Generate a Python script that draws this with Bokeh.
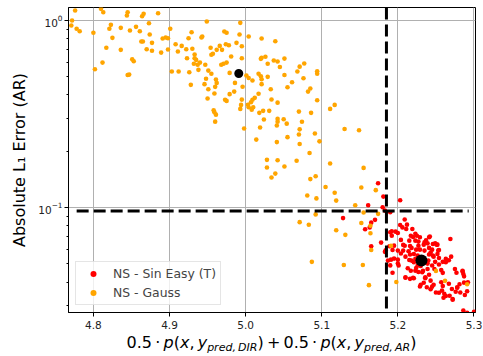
from bokeh.plotting import figure
from bokeh.models import (Span, FixedTicker, PrintfTickFormatter, Range1d,
                          Legend, LegendItem, LogTickFormatter, Div)
from bokeh.layouts import column
from bokeh.embed import file_html
from bokeh.resources import INLINE

# ---------------- data ----------------
gauss_x = [
    4.776, 4.810, 4.813, 4.845, 4.844, 4.866, 4.864, 4.885, 4.772, 4.771,
    4.778, 4.782, 4.800, 4.823, 4.821, 4.825, 4.836, 4.848, 4.856, 4.861,
    4.873, 4.874, 4.863, 4.865, 4.877, 4.817, 4.836, 4.870, 4.877, 4.851,
    4.853, 4.812, 4.802, 4.847, 4.845, 4.891, 4.895, 4.898, 4.901, 4.889,
    4.898, 4.949, 4.993, 4.929, 4.943, 4.942, 4.925, 4.908, 4.916, 4.922,
    4.930, 4.911, 4.933, 4.933, 4.935, 4.923, 4.940, 4.932, 4.937, 4.947,
    4.938, 4.903, 4.912, 4.926, 4.951, 4.954, 4.957, 4.955, 4.962, 4.966,
    4.969, 4.972, 4.975, 4.974, 4.978, 4.988, 4.995, 4.992, 4.995, 4.981,
    4.968, 4.971, 4.975, 4.979, 4.955, 4.948, 4.961, 4.962, 4.960, 4.946,
    4.928, 4.986, 4.996, 4.951, 4.959, 4.950, 4.979, 4.985, 4.973, 4.975,
    4.995, 4.994, 4.993, 4.958, 4.959, 4.961, 4.960,
    5.004, 5.021, 5.039, 5.020, 5.021, 5.026, 5.029, 5.037, 5.042, 5.045, 5.051,
    5.004, 5.009, 5.017, 5.020, 5.021, 5.029, 5.021, 5.051, 5.033, 5.017, 5.012,
    5.009, 5.007, 5.003, 5.004, 5.008, 5.010, 5.034, 5.042, 5.018, 5.023, 5.031,
    5.070, 5.086, 5.111, 5.117, 5.094, 5.055, 5.061, 5.068, 5.071, 5.077, 5.076,
    5.082, 5.085, 5.094, 5.094, 5.001,
    5.024, 5.042, 5.042, 5.041, 5.050, 5.054, 5.074, 4.998, 5.019, 5.071, 5.070,
    5.091, 5.130, 5.149, 5.014, 5.041, 5.055, 5.071, 5.097, 5.084, 5.028, 5.042,
    5.067, 5.028, 5.051, 5.111, 5.155, 5.039, 5.034, 5.085, 5.092, 5.105, 5.081,
    5.093, 5.117, 5.119, 5.152, 5.171, 5.144, 5.155, 5.174, 5.092, 5.071, 5.083,
    5.119, 5.131, 5.152, 5.164, 5.164, 5.165, 5.191, 5.087, 5.129, 5.154, 5.162,
    5.198, 5.250, 5.262, 5.291,
]
gauss_y = [
    1.131, 1.155, 1.108, 1.108, 1.063, 1.086, 1.054, 1.094, 1.000, 0.940,
    0.903, 0.876, 0.860, 0.948, 0.903, 0.808, 0.914, 0.884, 0.925, 0.876,
    0.967, 0.842, 0.772, 0.772, 0.760, 0.715, 0.697, 0.702, 0.689, 0.621,
    0.606, 0.596, 0.549, 0.514, 0.512, 0.801, 0.811, 0.804, 0.903, 0.674,
    0.700, 0.988, 0.972, 0.866, 0.821, 0.811, 0.804, 0.747, 0.732, 0.702,
    0.706, 0.683, 0.658, 0.629, 0.616, 0.629, 0.596, 0.587, 0.580, 0.580,
    0.545, 0.534, 0.534, 0.529, 0.540, 0.715, 0.664, 0.656, 0.697, 0.732,
    0.697, 0.873, 0.860, 0.747, 0.738, 0.760, 0.729, 0.842, 0.629, 0.642,
    0.580, 0.587, 0.596, 0.525, 0.519, 0.488, 0.484, 0.464, 0.442, 0.457,
    0.453, 0.464, 0.443, 0.429, 0.407, 0.383, 0.404, 0.417, 0.377, 0.372,
    0.378, 0.354, 0.337, 0.331, 0.323, 0.314, 0.288,
    0.821, 0.801, 0.775, 0.624, 0.632, 0.640, 0.587, 0.611, 0.604, 0.565, 0.626,
    0.493, 0.478, 0.519, 0.504, 0.485, 0.500, 0.457, 0.512, 0.429, 0.406, 0.386,
    0.377, 0.366, 0.355, 0.344, 0.334, 0.344, 0.378, 0.364, 0.321, 0.329, 0.329,
    0.326, 0.321, 0.337, 0.354, 0.375, 0.440, 0.468, 0.534, 0.567, 0.589, 0.491,
    0.417, 0.433, 0.536, 0.519, 0.508,
    0.296, 0.298, 0.288, 0.275, 0.297, 0.281, 0.288, 0.265, 0.268, 0.262, 0.246,
    0.249, 0.263, 0.259, 0.231, 0.224, 0.238, 0.219, 0.226, 0.196, 0.180, 0.179,
    0.178, 0.164, 0.166, 0.172, 0.163, 0.152, 0.145, 0.142, 0.147, 0.129, 0.116,
    0.112, 0.120, 0.109, 0.128, 0.124, 0.103, 0.0942, 0.0926, 0.0920, 0.0836, 0.0810,
    0.0757, 0.0715, 0.0828, 0.0800, 0.0730, 0.0594, 0.0625, 0.0513, 0.0493, 0.0493, 0.0385,
    0.0400, 0.0459, 0.0406, 0.0389,
]

sin_x = [
    5.174, 5.181, 5.161, 5.180, 5.183, 5.203, 5.190, 5.128, 5.170, 5.165,
    5.163, 5.157, 5.209, 5.203, 5.211, 5.178, 5.165, 5.183, 5.184, 5.189,
    5.195, 5.193, 5.190, 5.192, 5.200, 5.204, 5.207, 5.204, 5.200, 5.191,
    5.190, 5.193, 5.200, 5.213, 5.217, 5.210, 5.216, 5.221, 5.215, 5.220,
    5.216, 5.218, 5.214, 5.221, 5.224, 5.223, 5.225, 5.227, 5.227, 5.234,
    5.237, 5.239, 5.241, 5.246, 5.249, 5.252, 5.245, 5.253, 5.252, 5.246,
    5.223, 5.218, 5.224, 5.230, 5.227, 5.233, 5.239, 5.241, 5.236, 5.245,
    5.249, 5.254, 5.259, 5.257, 5.259, 5.263, 5.263, 5.267, 5.270, 5.269,
    5.275, 5.277, 5.285, 5.287, 5.230, 5.234, 5.243, 5.250, 5.254, 5.229,
    5.238, 5.245, 5.259, 5.258, 5.263, 5.272, 5.260, 5.267, 5.271, 5.278,
    5.281, 5.287, 5.276, 5.282, 5.288, 5.291, 5.286, 5.291, 5.300, 5.192,
    5.197, 5.206, 5.212, 5.219, 5.217, 5.223, 5.229, 5.235, 5.241, 5.242,
    5.251, 5.254, 5.200, 5.209, 5.210, 5.215, 5.210, 5.220, 5.201, 5.187,
    5.195, 5.235, 5.241, 5.240, 5.247, 5.254, 5.226, 5.223, 5.232, 5.236,
    5.243, 5.247, 5.257, 5.261, 5.268, 5.272, 5.278, 5.285, 5.286, 5.292,
    5.226, 5.239, 5.221, 5.243, 5.229, 5.248, 5.216, 5.207,
]
sin_y = [
    0.1349, 0.1145, 0.1029, 0.1004, 0.0964, 0.1094, 0.0944, 0.0879, 0.0860, 0.0831,
    0.0784, 0.0766, 0.0863, 0.0808, 0.0769, 0.0650, 0.0622, 0.0580, 0.0591, 0.0621,
    0.0626, 0.0594, 0.0738, 0.0708, 0.0732, 0.0672, 0.0632, 0.0568, 0.0527, 0.0527,
    0.0491, 0.0449, 0.0502, 0.0474, 0.0460, 0.0422, 0.0416, 0.0419, 0.0666, 0.0697,
    0.0624, 0.0609, 0.0584, 0.0565, 0.0596, 0.0666, 0.0708, 0.0658, 0.0626, 0.0634,
    0.0668, 0.0644, 0.0609, 0.0639, 0.0644, 0.0634, 0.0596, 0.0589, 0.0565, 0.0554,
    0.0532, 0.0521, 0.0476, 0.0488, 0.0453, 0.0459, 0.0470, 0.0438, 0.0419, 0.0490,
    0.0513, 0.0496, 0.0513, 0.0464, 0.0448, 0.0510, 0.0532, 0.0523, 0.0547, 0.0680,
    0.0470, 0.0449, 0.0455, 0.0429, 0.0387, 0.0397, 0.0366, 0.0352, 0.0351, 0.0379,
    0.0375, 0.0378, 0.0381, 0.0360, 0.0337, 0.0322, 0.0330, 0.0392, 0.0367, 0.0373,
    0.0389, 0.0397, 0.0355, 0.0352, 0.0341, 0.0357, 0.0282, 0.0274, 0.0277, 0.0747,
    0.0744, 0.0784, 0.0811, 0.0769, 0.0708, 0.0724, 0.0694, 0.0652, 0.0694, 0.0700,
    0.0634, 0.0594, 0.0589, 0.0626, 0.0547, 0.0525, 0.0424, 0.0421, 0.0490, 0.0521,
    0.0534, 0.0589, 0.0561, 0.0521, 0.0547, 0.0538, 0.0490, 0.0460, 0.0451, 0.0424,
    0.0407, 0.0387, 0.0399, 0.0346, 0.0338, 0.0325, 0.0375, 0.0460, 0.0442, 0.0399,
    0.0554, 0.0502, 0.0510, 0.0575, 0.0596, 0.0470, 0.0561, 0.0589,
]

mean_gauss = (4.991, 0.521)
mean_sin = (5.231, 0.0521)

vline_x = 5.185
hline_y = 0.096
hline_x = [4.778, 5.293]

x_ticks = [4.8, 4.9, 5.0, 5.1, 5.2, 5.3]
y_ticks = [0.1, 1.0]
y_minor = [0.03, 0.04, 0.05, 0.06, 0.07, 0.08, 0.09,
           0.2, 0.3, 0.4, 0.5, 0.6, 0.7, 0.8, 0.9]

labels = ["NS - Sin Easy (T)", "NS - Gauss"]

FONT = "DejaVu Sans"
W, H_PLOT, H_LABEL = 483, 334, 22
B_LEFT, B_RIGHT, B_TOP, B_BOTTOM = 68, 8, 7, 22

n_g = min(len(gauss_x), len(gauss_y))
n_s = min(len(sin_x), len(sin_y))

# ---------------- figure ----------------
p = figure(width=W, height=H_PLOT, y_axis_type="log",
           x_range=Range1d(4.7673, 5.302), y_range=Range1d(0.0275, 1.174),
           output_backend="svg", toolbar_location=None,
           min_border_left=B_LEFT, min_border_right=B_RIGHT,
           min_border_top=B_TOP, min_border_bottom=B_BOTTOM)
p.background_fill_color = "white"
p.border_fill_color = "white"
p.outline_line_color = "black"
p.outline_line_width = 1

# grid
p.xgrid.ticker = FixedTicker(ticks=x_ticks)
p.ygrid.ticker = FixedTicker(ticks=y_ticks)
for g in (p.xgrid[0], p.ygrid[0]):
    g.grid_line_color = "#b0b0b0"
    g.grid_line_width = 1

# axes
p.xaxis.ticker = FixedTicker(ticks=x_ticks)
p.xaxis.formatter = PrintfTickFormatter(format="%.1f")
p.yaxis.ticker = FixedTicker(ticks=y_ticks, minor_ticks=y_minor)
p.yaxis.formatter = LogTickFormatter()
for ax in (p.xaxis[0], p.yaxis[0]):
    ax.axis_line_color = "black"
    ax.major_tick_line_color = "black"
    ax.minor_tick_line_color = "black"
    ax.major_tick_in = 0
    ax.major_tick_out = 4
    ax.minor_tick_in = 0
    ax.minor_tick_out = 2
    ax.major_label_text_font = FONT
    ax.major_label_text_font_size = "10.5px"
    ax.major_label_text_color = "#222222"
p.xaxis.minor_tick_line_color = None
p.xaxis.major_label_standoff = 4
p.yaxis.major_label_standoff = 2
p.xaxis.axis_label = None

p.yaxis.axis_label = "Absolute L\u2081 Error (AR)"
p.yaxis.axis_label_text_font = FONT
p.yaxis.axis_label_text_font_size = "16px"
p.yaxis.axis_label_text_font_style = "normal"
p.yaxis.axis_label_text_color = "black"
p.yaxis.axis_label_standoff = 6

# scatter
r_sin = p.scatter(sin_x[:n_s], sin_y[:n_s], size=4.6, fill_color="#ff0000",
                  line_color=None)
r_gauss = p.scatter(gauss_x[:n_g], gauss_y[:n_g], size=4.6, fill_color="#ffa500",
                    line_color=None)

# threshold lines
p.add_layout(Span(location=vline_x, dimension="height", line_color="black",
                  line_width=3, line_dash="12 5"))
p.line(hline_x, [hline_y, hline_y], line_color="black", line_width=3,
       line_dash="12 5")

# means
p.scatter([mean_gauss[0]], [mean_gauss[1]], size=9, fill_color="black",
          line_color=None)
p.scatter([mean_sin[0]], [mean_sin[1]], size=12, fill_color="black",
          line_color=None)

# legend
legend = Legend(items=[LegendItem(label=labels[0], renderers=[r_sin]),
                       LegendItem(label=labels[1], renderers=[r_gauss])],
                location=(7, 7), margin=0, padding=4, spacing=4,
                label_height=15, glyph_height=15, glyph_width=26,
                label_standoff=7, label_text_font=FONT,
                label_text_font_size="12.4px", border_line_color="#cccccc",
                border_line_width=1, background_fill_alpha=0.8)
p.add_layout(legend)

# x-axis label (italic maths with subscripts) as real HTML text under the plot
pad_left = B_LEFT - B_RIGHT  # centres the text over the frame
sub = '<sub style="font-size:11px; vertical-align:-3px; line-height:0">'
xlabel_html = (
    f'<div style="box-sizing:border-box; width:{W}px; padding-left:{pad_left}px; '
    f'text-align:center; font-family:\'{FONT}\'; font-size:16px; '
    f'line-height:17px; color:black; white-space:nowrap;">'
    f'0.5&thinsp;&middot;&thinsp;<i>p</i>(<i>x</i>,&thinsp;<i>y</i>'
    f'{sub}<i>pred,&thinsp;DIR</i></sub>)&thinsp;+&thinsp;0.5&thinsp;&middot;'
    f'&thinsp;<i>p</i>(<i>x</i>,&thinsp;<i>y</i>{sub}<i>pred,&thinsp;AR</i>'
    f'</sub>)</div>'
)
xlabel = Div(text=xlabel_html, width=W, height=H_LABEL, margin=(0, 0, 0, 0))

layout = column(p, xlabel, spacing=0)
open("out.html", "w").write(file_html(layout, INLINE))
